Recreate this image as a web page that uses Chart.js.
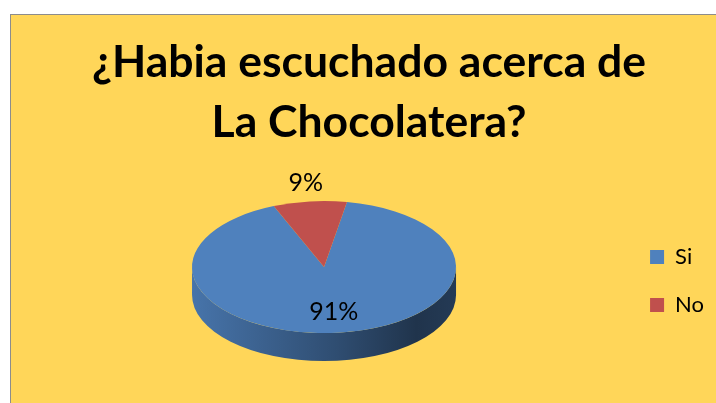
<!DOCTYPE html>
<html>
<head>
<meta charset="utf-8">
<script src="https://cdn.jsdelivr.net/npm/chart.js@4"></script>
<style>
  html, body { margin: 0; padding: 0; background: #fff; overflow: hidden; }
  #frame {
    position: absolute; left: 10px; top: 14px; width: 718px; height: 389px;
    background: #ffd659;
    border-left: 1.5px solid #8c8c8c; border-top: 1.5px solid #8c8c8c;
  }
</style>
</head>
<body>
<div id="frame"><canvas id="pieChart"></canvas></div>
<script>
const categories = ['Si', 'No'];
const values = [91, 9];
const colors = ['#4f81bd', '#c0504d'];
const titleLines = ['¿Habia escuchado acerca de', 'La Chocolatera?'];

const FONT = "Lato, 'Open Sans', sans-serif";
const TILT = 0.5;    // vertical squash of the pie top
const DEPTH = 28;    // thickness of the pie, px

function shade(hex, f) {
  const n = parseInt(hex.slice(1), 16);
  const r = Math.round(((n >> 16) & 255) * f);
  const g = Math.round(((n >> 8) & 255) * f);
  const b = Math.round((n & 255) * f);
  return 'rgb(' + r + ',' + g + ',' + b + ')';
}

// parts of an arc that lie on the front half (0..PI), where the wall shows
function frontSpans(a0, a1) {
  const spans = [];
  for (let k = -2; k <= 2; k++) {
    const lo = Math.max(a0, 2 * Math.PI * k);
    const hi = Math.min(a1, Math.PI + 2 * Math.PI * k);
    if (hi > lo) spans.push([lo, hi]);
  }
  return spans;
}

const pie3d = {
  id: 'pie3d',
  beforeDatasetsDraw(chart) {
    const arcs = chart.getDatasetMeta(0).data;
    if (!arcs.length) return;
    const ctx = chart.ctx;
    const cx = arcs[0].x, cy0 = arcs[0].y, r = arcs[0].outerRadius;
    const cy = cy0 - DEPTH / 2;
    const ry = r * TILT;

    // side wall
    arcs.forEach((arc, i) => {
      const grad = ctx.createLinearGradient(cx - r, 0, cx + r, 0);
      grad.addColorStop(0, shade(colors[i], 0.9));
      grad.addColorStop(0.55, shade(colors[i], 0.6));
      grad.addColorStop(0.85, shade(colors[i], 0.4));
      grad.addColorStop(1, shade(colors[i], 0.45));
      frontSpans(arc.startAngle, arc.endAngle).forEach(([lo, hi]) => {
        ctx.beginPath();
        ctx.ellipse(cx, cy, r, ry, 0, lo, hi);
        ctx.ellipse(cx, cy + DEPTH, r, ry, 0, hi, lo, true);
        ctx.closePath();
        ctx.fillStyle = grad;
        ctx.fill();
      });
    });

    // squash the top face that Chart.js draws next
    ctx.save();
    ctx.translate(cx, cy);
    ctx.scale(1, TILT);
    ctx.translate(-cx, -cy0);
  },
  afterDatasetsDraw(chart) {
    const arcs = chart.getDatasetMeta(0).data;
    if (!arcs.length) return;
    const ctx = chart.ctx;
    ctx.restore();
    const cx = arcs[0].x, r = arcs[0].outerRadius;
    const cy = arcs[0].y - DEPTH / 2;
    const total = values.reduce((a, b) => a + b, 0);
    ctx.save();
    ctx.font = '25px ' + FONT;
    ctx.fillStyle = '#000';
    ctx.textAlign = 'center';
    ctx.textBaseline = 'middle';
    arcs.forEach((arc, i) => {
      const share = values[i] / total;
      const mid = (arc.startAngle + arc.endAngle) / 2;
      const f = share < 0.2 ? 1.28 : 0.68;
      const x = cx + Math.cos(mid) * r * f;
      const y = cy + Math.sin(mid) * r * TILT * f;
      ctx.fillText(Math.round(share * 100) + '%', x, y);
    });
    ctx.restore();
  }
};

new Chart(document.getElementById('pieChart'), {
  type: 'pie',
  data: {
    labels: categories,
    datasets: [{
      data: values,
      backgroundColor: colors,
      borderWidth: 0,
      clip: false
    }]
  },
  options: {
    responsive: true,
    maintainAspectRatio: false,
    animation: false,
    rotation: 10,
    radius: 132,
    layout: { padding: { left: 13, right: 15, bottom: 5 } },
    plugins: {
      title: {
        display: true,
        text: titleLines,
        color: '#000',
        font: { family: FONT, size: 44.5, weight: 'bold', lineHeight: 1.35 },
        padding: { top: 18, bottom: 10 }
      },
      legend: {
        position: 'right',
        fullSize: false,
        labels: {
          boxWidth: 14,
          boxHeight: 14,
          padding: 26,
          color: '#000',
          font: { family: FONT, size: 22 }
        }
      },
      tooltip: { enabled: false }
    }
  },
  plugins: [pie3d]
});
</script>
</body>
</html>
